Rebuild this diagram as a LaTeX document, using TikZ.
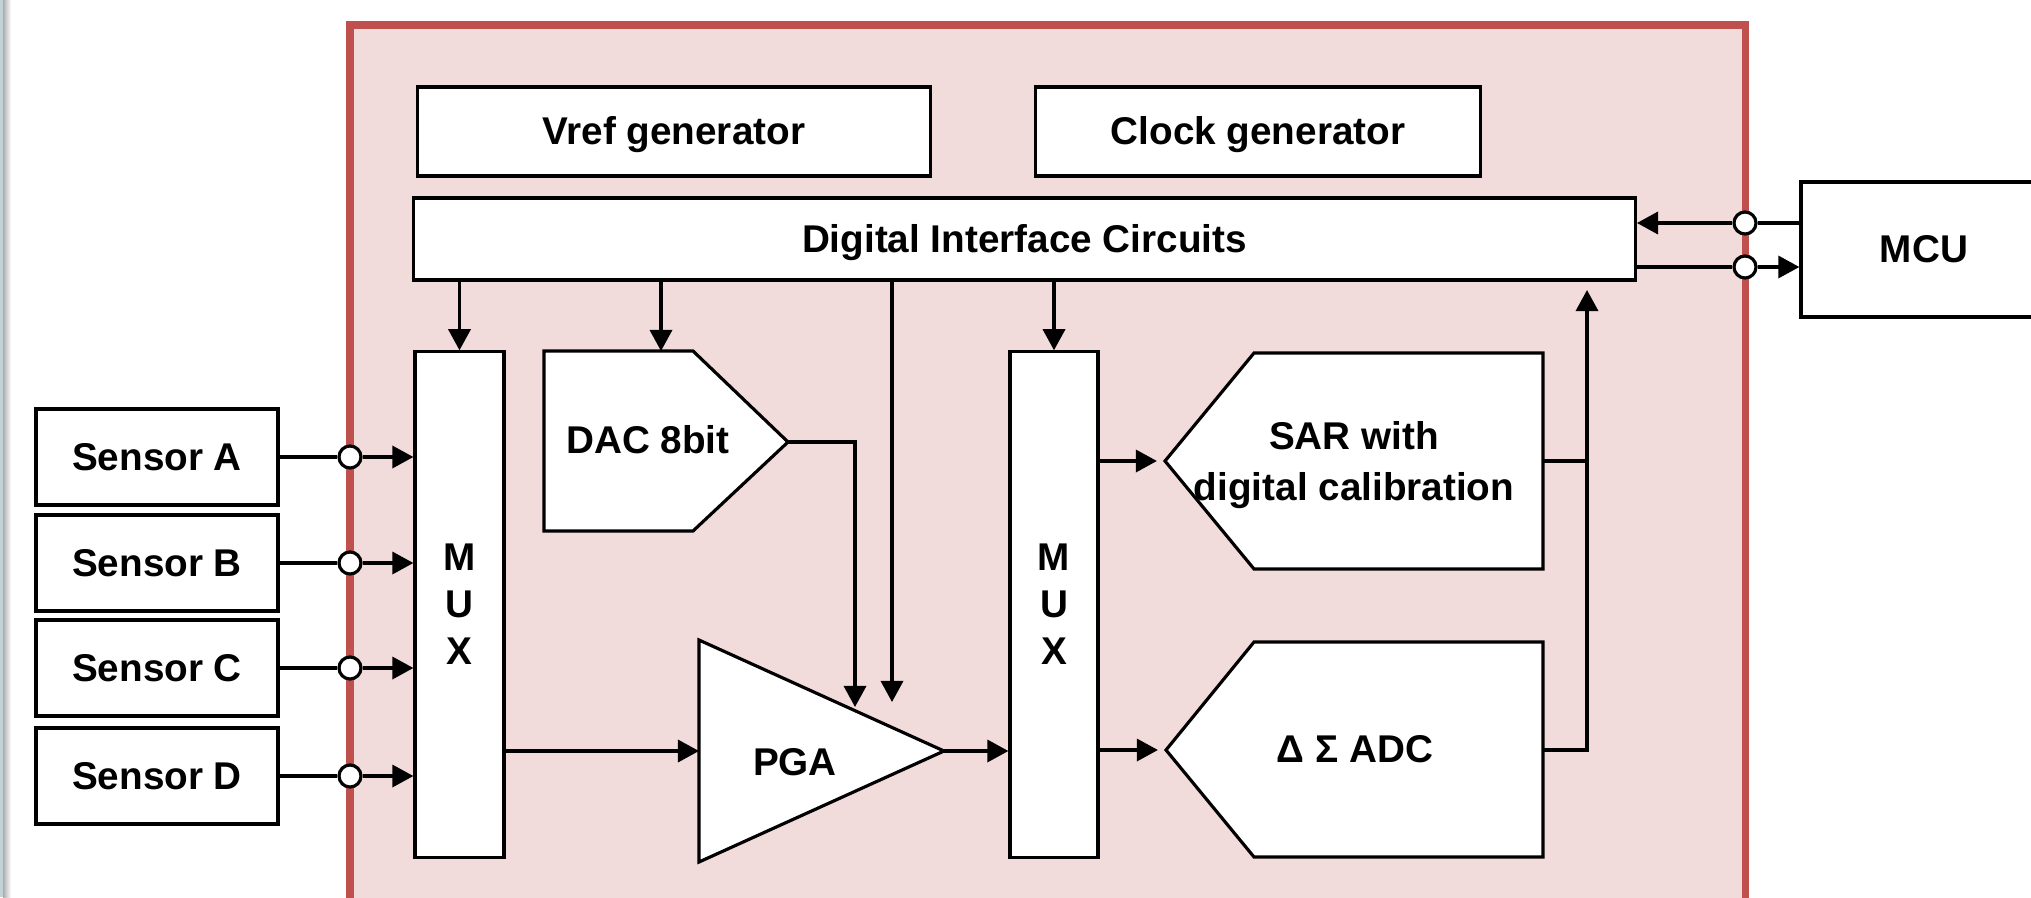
\documentclass[tikz,border=0pt]{standalone}
\usepackage{fontspec}
\setmainfont{Liberation Sans}
\usetikzlibrary{arrows.meta}
\definecolor{chipred}{HTML}{C0504D}
\definecolor{chipfill}{HTML}{F2DCDB}

\begin{document}
\begin{tikzpicture}[x=0.01cm, y=-0.01cm, font=\fontsize{11}{13.4}\selectfont\bfseries,
  >={Triangle[length=6pt,width=6.3pt]}, line width=0.9pt,
  blk/.style={draw, fill=white, inner sep=0pt, align=center},
  one/.style={blk, text height=7.6pt, text depth=0pt},
  port/.style={draw, circle, fill=white, inner sep=0pt, minimum size=0.22cm},
  chip/.style={draw=chipred, fill=chipfill, line width=2pt}]
\path[use as bounding box, clip] (0,0) rectangle (2031,897);
\fill[cyan!25!gray!45] (0,0) rectangle (3,897);
\shade[left color=gray!65, right color=white] (3,0) rectangle (11,897);
\draw[chip] (350,25) rectangle (1745,960);

\node[one, minimum width=5.12cm, minimum height=0.89cm] (vref) at (674,131.5) {Vref generator};
\node[one, minimum width=4.44cm, minimum height=0.89cm] (clk) at (1258,131.5) {Clock generator};
\node[one, minimum width=12.21cm, minimum height=0.82cm] (dic) at (1024.5,239) {Digital Interface Circuits};
\node[one, minimum width=2.46cm, minimum height=1.35cm] (mcu) at (1924,249.5) {MCU};
\node[one, minimum width=2.42cm, minimum height=0.96cm] (sa) at (157,457) {Sensor A};
\node[one, minimum width=2.42cm, minimum height=0.96cm] (sb) at (157,563) {Sensor B};
\node[one, minimum width=2.42cm, minimum height=0.96cm] (sc) at (157,668) {Sensor C};
\node[one, minimum width=2.42cm, minimum height=0.96cm] (sd) at (157,776) {Sensor D};
\node[blk, minimum width=0.89cm, minimum height=5.05cm] (mux1) at (459.5,604.5) {M\\U\\X};
\node[blk, minimum width=0.88cm, minimum height=5.05cm] (mux2) at (1054,604.5) {M\\U\\X};

\draw[fill=white] (544,351) -- (693,351) -- (788,442) coordinate (dacout) -- (693,531) -- (544,531) -- cycle;
\node (dac) at (648,440) {DAC 8bit};
\draw[fill=white] (699,640) -- (944,751) coordinate (pgaout) -- (699,862) -- cycle;
\node (pga) at (795,762) {PGA};
\draw[fill=white] (1165,461) coordinate (sarin) -- (1254,353) -- (1543,353) -- (1543,461) coordinate (sarout) -- (1543,569) -- (1254,569) -- cycle;
\node[align=center] (sar) at (1354,465) {SAR with\\[1pt]digital calibration};
\draw[fill=white] (1166,750) coordinate (adcin) -- (1254,642) -- (1543,642) -- (1543,750) coordinate (adcout) -- (1543,857) -- (1254,857) -- cycle;
\node (adc) at (1355,749) {Δ Σ ADC};

\node[port] (pa) at (350,457) {};
\node[port] (pb) at (350,563) {};
\node[port] (pc) at (350,668) {};
\node[port] (pd) at (350,776) {};
\node[port] (pm1) at (1745,223) {};
\node[port] (pm2) at (1745,267) {};
\coordinate (pgain) at (699,751);
\coordinate (dacin) at (661,351);
\coordinate (dacpga) at (855,707);
\coordinate (dicpga) at (892,702);
\coordinate (fb) at (1587,290);

\draw (sa) -- (pa);
\draw[->] (pa) -- (pa -| mux1.west);
\draw (sb) -- (pb);
\draw[->] (pb) -- (pb -| mux1.west);
\draw (sc) -- (pc);
\draw[->] (pc) -- (pc -| mux1.west);
\draw (sd) -- (pd);
\draw[->] (pd) -- (pd -| mux1.west);
\draw[->] (mux1.east |- pgain) -- (pgain);
\draw[->] (mux1.north |- dic.south) -- (mux1.north);
\draw[->] (dacin |- dic.south) -- (dacin);
\draw[->] (dicpga |- dic.south) -- (dicpga);
\draw[->] (mux2.north |- dic.south) -- (mux2.north);
\draw[->] (dacout) -| (dacpga);
\draw[->] (pgaout) -- (pgaout -| mux2.west);
\draw[->, shorten >=2.3pt] (mux2.east |- sarin) -- (sarin);
\draw[->, shorten >=2.3pt] (mux2.east |- adcin) -- (adcin);
\draw (sarout) -- (sarout -| fb);
\draw[->] (adcout) -| (fb);
\draw (mcu.west |- pm1) -- (pm1);
\draw[->] (pm1) -- (pm1 -| dic.east);
\draw (dic.east |- pm2) -- (pm2);
\draw[->] (pm2) -- (pm2 -| mcu.west);
\end{tikzpicture}
\end{document}
